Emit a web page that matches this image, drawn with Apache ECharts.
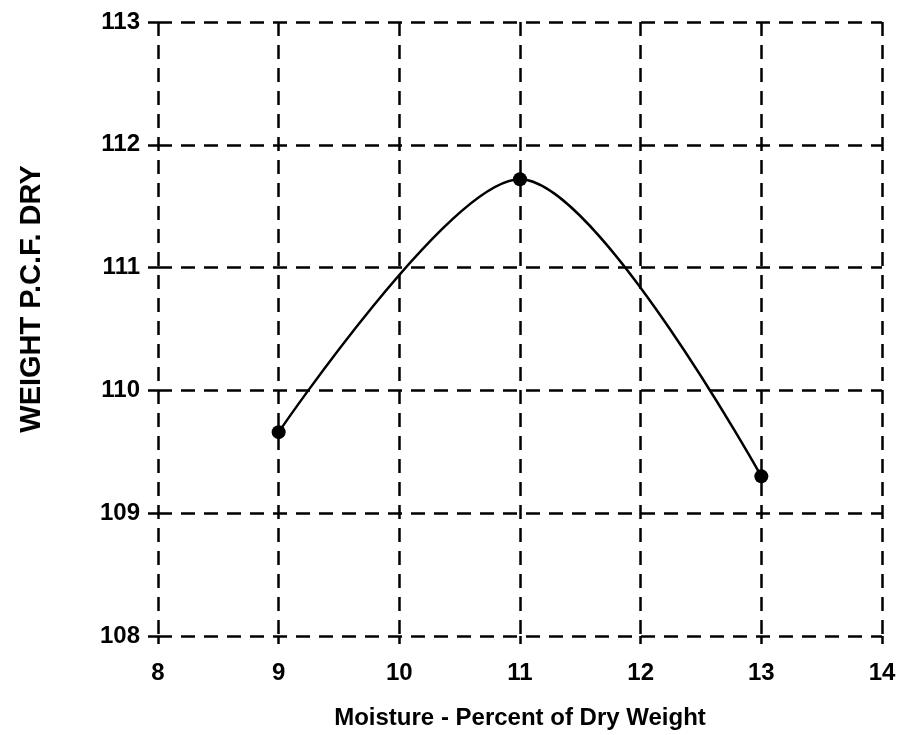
<!DOCTYPE html>
<html>
<head>
<meta charset="utf-8">
<script src="https://cdn.jsdelivr.net/npm/echarts@6/dist/echarts.min.js"></script>
<style>
  html, body { margin: 0; padding: 0; background: #fff; }
  #main { width: 900px; height: 735px; }
</style>
</head>
<body>
<div id="main"></div>
<script>
// moisture (%) vs dry weight (pcf)
let moisture = [9, 11, 13];
let weight = [109.66, 111.72, 109.3];
let xTicks = [8, 14, 1];   // min, max, step
let yTicks = [108, 113, 1];

let font = 'Liberation Sans, Arial, sans-serif';
let dashed = { color: '#000', width: 2.5, type: [14, 9] };

let points = moisture.map(function (m, i) { return [m, weight[i]]; });

let myChart = echarts.init(document.getElementById('main'));
let option = {
    backgroundColor: '#fff',
    animation: false,
    grid: { left: 158, right: 18, top: 22, bottom: 97 },
    xAxis: {
        type: 'value',
        min: xTicks[0], max: xTicks[1], interval: xTicks[2],
        name: 'Moisture - Percent of Dry Weight',
        nameLocation: 'middle',
        nameGap: 70,
        nameTextStyle: { color: '#000', fontSize: 24, fontWeight: 'bold', fontFamily: font },
        axisLine: { show: false },
        axisTick: { show: true, length: 8, lineStyle: { color: '#000', width: 2.5 } },
        axisLabel: { color: '#000', fontSize: 24, fontWeight: 'bold', fontFamily: font, margin: 25 },
        splitLine: { show: true, lineStyle: dashed }
    },
    yAxis: {
        type: 'value',
        min: yTicks[0], max: yTicks[1], interval: yTicks[2],
        name: 'WEIGHT P.C.F. DRY',
        nameLocation: 'middle',
        nameGap: 112,
        // left padding pushes the rotated title up a bit, like the scan
        nameTextStyle: { color: '#000', fontSize: 29, fontWeight: 'bold', fontFamily: font, padding: [0, 0, 0, 60] },
        axisLine: { show: false },
        axisTick: { show: true, length: 10, lineStyle: { color: '#000', width: 2.5 } },
        axisLabel: { color: '#000', fontSize: 24, fontWeight: 'bold', fontFamily: font, margin: 18 },
        splitLine: { show: true, lineStyle: dashed }
    },
    series: [{
        type: 'line',
        data: points,
        smooth: 0.3,
        symbol: 'circle',
        symbolSize: 14,
        itemStyle: { color: '#000' },
        lineStyle: { color: '#000', width: 2.5 }
    }]
};
myChart.setOption(option, true);
</script>
</body>
</html>
